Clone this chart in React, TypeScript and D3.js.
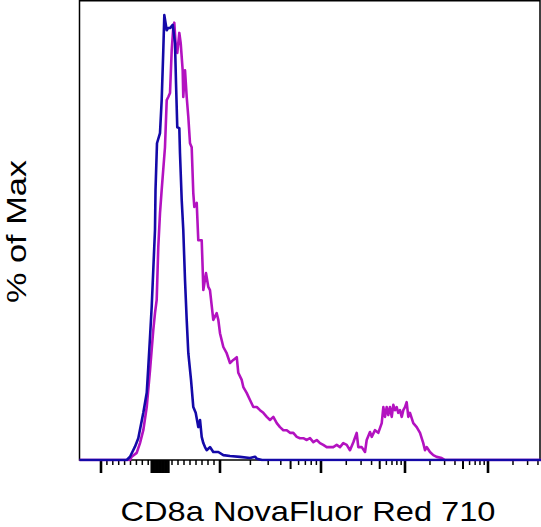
import React from "react";
import * as d3 from "d3";

// Biexponential display units: |t|<=1 -> linear (t*1000), t>1 -> 1000*10^(t-1)
const blueX = [-1.4, -0.564, -0.508, -0.424, -0.368, -0.283, -0.225, -0.198, -0.169, -0.141, -0.114, -0.085, -0.076, -0.051, 0, 0.028, 0.055, 0.072, 0.112, 0.133, 0.167, 0.212, 0.25, 0.267, 0.288, 0.322, 0.333, 0.362, 0.388, 0.417, 0.445, 0.472, 0.517, 0.555, 0.595, 0.638, 0.667, 0.695, 0.722, 0.75, 0.778, 0.833, 0.888, 0.972, 1.033, 1.099, 1.198, 1.297, 1.347, 1.364, 1.416, 4.7];
const blueY = [0, 0, 0.74, 3.0, 4.9, 10.6, 15.1, 21.0, 27.7, 34.4, 42.7, 51.7, 60.7, 71.2, 73.5, 80.9, 92.1, 100, 96.6, 97.1, 97.1, 97.8, 93.7, 84.7, 74.8, 74.6, 69.0, 58.4, 51.7, 40.4, 31.5, 24.0, 18.0, 11.9, 10.6, 7.4, 9.0, 5.2, 3.8, 2.9, 2.2, 2.9, 1.8, 1.8, 1.1, 0.9, 0.7, 0.45, 0.74, 0.3, 0, 0];

const magentaX = [-1.4, -0.508, -0.48, -0.395, -0.339, -0.283, -0.225, -0.169, -0.114, -0.085, -0.056, -0.029, 0, 0.028, 0.083, 0.112, 0.138, 0.167, 0.195, 0.222, 0.238, 0.267, 0.288, 0.322, 0.345, 0.378, 0.388, 0.417, 0.445, 0.472, 0.5, 0.528, 0.555, 0.572, 0.612, 0.638, 0.695, 0.712, 0.722, 0.767, 0.805, 0.833, 0.888, 0.945, 0.972, 1.0, 1.033, 1.066, 1.099, 1.132, 1.166, 1.181, 1.215, 1.231, 1.264, 1.297, 1.33, 1.364, 1.396, 1.429, 1.463, 1.495, 1.528, 1.562, 1.594, 1.627, 1.661, 1.693, 1.726, 1.76, 1.792, 1.825, 1.859, 1.891, 1.924, 1.958, 1.99, 2.027, 2.068, 2.107, 2.146, 2.187, 2.226, 2.265, 2.306, 2.345, 2.385, 2.425, 2.444, 2.485, 2.524, 2.544, 2.583, 2.604, 2.643, 2.682, 2.723, 2.742, 2.762, 2.782, 2.801, 2.821, 2.842, 2.861, 2.881, 2.901, 2.92, 2.94, 2.961, 2.98, 3.0, 3.02, 3.04, 3.06, 3.1, 3.141, 3.181, 3.22, 3.241, 3.261, 3.301, 3.341, 3.382, 3.442, 3.482, 4.7];
const magentaY = [0, 0, 0.74, 1.6, 3.8, 6.7, 11.9, 20.2, 29.2, 33.0, 36.0, 47.9, 55.5, 60.7, 70.3, 80.9, 81.6, 82.5, 92.1, 97.3, 98.3, 92.1, 91.5, 96.0, 93.7, 87.6, 81.6, 87.6, 81.6, 77.1, 71.2, 70.3, 60.0, 56.9, 57.8, 49.4, 49.4, 42.7, 38.2, 42.0, 38.9, 38.2, 31.5, 33.0, 31.5, 28.5, 25.4, 24.0, 21.8, 22.5, 23.1, 19.6, 18.0, 16.4, 15.1, 13.5, 11.9, 11.9, 11.2, 10.6, 9.7, 9.0, 9.7, 8.3, 7.4, 6.7, 6.7, 6.1, 6.1, 5.2, 4.9, 4.9, 4.5, 4.9, 4.0, 4.5, 3.8, 3.4, 2.9, 2.9, 2.9, 3.4, 2.9, 3.8, 3.4, 2.2, 4.0, 6.1, 2.9, 2.9, 1.8, 4.5, 6.3, 5.2, 6.7, 6.1, 8.3, 11.9, 9.7, 11.9, 10.1, 11.9, 9.7, 12.4, 11.2, 11.9, 10.6, 11.2, 9.7, 11.2, 11.9, 13.0, 9.7, 10.6, 8.3, 7.4, 6.1, 3.8, 2.2, 2.9, 1.8, 1.1, 0.7, 0.45, 0, 0];

const majorTicks = [-1000, 0, 1000, 1e4, 1e5, 1e6];
const nearZeroTicks = [-150, -140, -130, -120, -110, -100, -90, -80, -70, -60, -50, -40, -30, -20, -10, 10, 20, 30, 40, 50, 60, 70, 80, 90, 100, 110, 120, 130, 140, 150];
const linearMinorTicks = [-900, -800, -700, -600, -500, -400, -300, -200, 200, 300, 400, 500, 600, 700, 800, 900];
const decadeMultipliers = [2, 3, 4, 5, 6, 7, 8, 9];
const decades = [1e3, 1e4, 1e5, 1e6];

const yLabel = "% of Max";
const xLabel = "CD8a NovaFluor Red 710";

function biex(v: number): number {
  if (Math.abs(v) <= 1000) return v / 1000;
  return Math.sign(v) * (1 + Math.log10(Math.abs(v) / 1000));
}

export default function App() {
  const W = 541, H = 527;
  const left = 79.5, right = 540, top = 0.75, bottom = 460;

  const x = d3.scaleLinear().domain([-1, 0, 1, 2, 3, 4]).range([101, 160, 220, 321, 405, 488]);
  const y = d3.scaleLinear().domain([0, 103.4]).range([bottom, 0]);

  const line = d3.line<[number, number]>().x((d) => x(d[0])).y((d) => y(d[1]));
  const blue = line(blueX.map((t, i) => [t, blueY[i]] as [number, number])) || "";
  const magenta = line(magentaX.map((t, i) => [t, magentaY[i]] as [number, number])) || "";

  const ticks: { v: number; len: number; w: number }[] = [];
  majorTicks.forEach((v) => ticks.push({ v, len: 13, w: 2.6 }));
  nearZeroTicks.forEach((v) => ticks.push({ v, len: 13, w: 1.3 }));
  linearMinorTicks.forEach((v) => ticks.push({ v, len: 5, w: 1.5 }));
  decades.forEach((d) =>
    decadeMultipliers.forEach((m) =>
      ticks.push({ v: d * m, len: m === 5 ? 9 : 5, w: m === 5 ? 2 : 1.5 })
    )
  );
  const visTicks = ticks.filter((t) => {
    const px = x(biex(t.v));
    return px >= left && px <= right;
  });

  return (
    <svg width={W} height={H} style={{ position: "absolute", left: 0, top: 0, background: "#fff" }}
      fontFamily="'Liberation Sans', Arial, sans-serif">
      <defs>
        <clipPath id="plotClip">
          <rect x={left} y={0} width={right - left + 2} height={bottom + 1.5} />
        </clipPath>
      </defs>
      <rect x={left} y={top} width={right - left} height={bottom - top} fill="none" stroke="#000" strokeWidth={1.5} />
      {visTicks.map((t, i) => {
        const px = x(biex(t.v));
        return <line key={i} x1={px} x2={px} y1={bottom} y2={bottom + t.len} stroke="#000" strokeWidth={t.w} />;
      })}
      <g clipPath="url(#plotClip)">
        <path d={magenta} fill="none" stroke="#b312c0" strokeWidth={2.6} strokeLinejoin="round" />
        <path d={blue} fill="none" stroke="#1409a8" strokeWidth={2.6} strokeLinejoin="round" />
      </g>
      <text x={308} y={520.5} textAnchor="middle" fontSize={28} textLength={375} lengthAdjust="spacingAndGlyphs">{xLabel}</text>
      <text transform="translate(25.5,231.5) rotate(-90)" textAnchor="middle" fontSize={28} textLength={143} lengthAdjust="spacingAndGlyphs">{yLabel}</text>
    </svg>
  );
}
